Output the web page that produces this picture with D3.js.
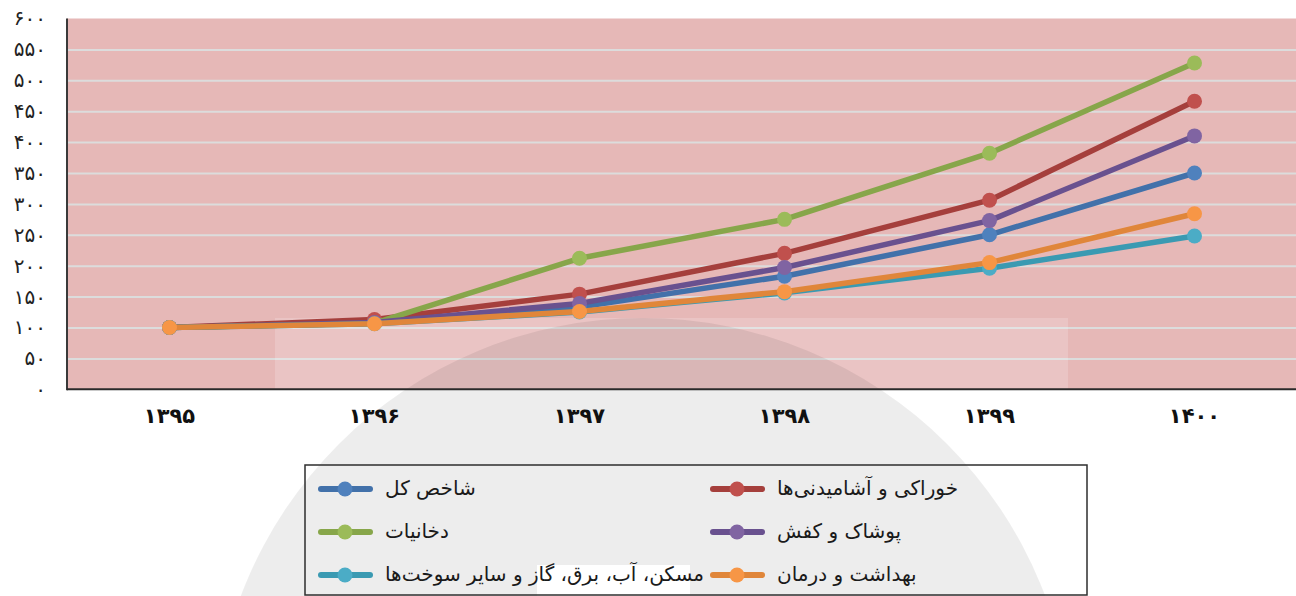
<!DOCTYPE html>
<html>
<head>
<meta charset="utf-8">
<script src="https://cdn.jsdelivr.net/npm/d3@7"></script>
<style>
  html, body { margin: 0; padding: 0; background: #ffffff; }
  svg { display: block; }
  text { font-family: "DejaVu Sans", sans-serif; }
</style>
</head>
<body>
<svg id="chart" width="1296" height="596"></svg>
<script>
// ---- data ----
const years = ["۱۳۹۵", "۱۳۹۶", "۱۳۹۷", "۱۳۹۸", "۱۳۹۹", "۱۴۰۰"];
const seriesNames = [
  "شاخص کل",
  "خوراکی و آشامیدنی\u200cها",
  "دخانیات",
  "پوشاک و کفش",
  "مسکن، آب، برق، گاز و سایر سوخت\u200cها",
  "بهداشت و درمان"
];
const totalIndex   = [100, 107, 133, 183, 250, 350];
const foodValues   = [100, 113, 154, 220, 306, 466];
const tobacco      = [100, 107, 212, 275, 382, 528];
const clothing     = [100, 108, 139, 197, 273, 410];
const housing      = [100, 106, 125, 156, 196, 248];
const health       = [100, 106, 126, 158, 205, 284];
const yTicks = [0, 50, 100, 150, 200, 250, 300, 350, 400, 450, 500, 550, 600];
const yTickLabels = ["۰", "۵۰", "۱۰۰", "۱۵۰", "۲۰۰", "۲۵۰", "۳۰۰", "۳۵۰", "۴۰۰", "۴۵۰", "۵۰۰", "۵۵۰", "۶۰۰"];

// ---- styles ----
const lineColors   = ["#4271aa", "#a53f3c", "#87a64a", "#69518f", "#3a9ab2", "#e0863a"];
const markerColors = ["#4f81bd", "#c0504d", "#9bbb59", "#8064a2", "#4bacc6", "#f79646"];
const allValues = [totalIndex, foodValues, tobacco, clothing, housing, health];
const series = seriesNames.map((n, i) => ({ name: n, values: allValues[i], line: lineColors[i], marker: markerColors[i] }));

const svg = d3.select("#chart");
const plot = { left: 67, right: 1297, top: 18.5, bottom: 389.3 };

const x = d3.scaleBand().domain(years).range([plot.left, plot.right]).padding(0);
const y = d3.scaleLinear().domain([0, 600]).range([plot.bottom, plot.top]);
const cx = d => x(d) + x.bandwidth() / 2;

// plot background
svg.append("rect")
  .attr("x", plot.left).attr("y", plot.top)
  .attr("width", plot.right - plot.left).attr("height", plot.bottom - plot.top)
  .attr("fill", "#e6b8b7");

// gridlines
svg.append("g")
  .attr("transform", `translate(${plot.left},0)`)
  .call(d3.axisLeft(y).tickValues(yTicks.filter(t => t > 0 && t < 600)).tickSize(-(plot.right - plot.left)).tickFormat(""))
  .call(g => g.select(".domain").remove())
  .call(g => g.selectAll("line").attr("stroke", "#dcdcdc").attr("stroke-width", 2));

// watermark pieces
svg.append("rect")
  .attr("x", 275).attr("y", 318).attr("width", 793).attr("height", plot.bottom - 318)
  .attr("fill", "#ffffff").attr("opacity", 0.18);
svg.append("circle")
  .attr("cx", 643).attr("cy", 748).attr("r", 430)
  .attr("fill", "#000000").attr("opacity", 0.07);
svg.append("rect")
  .attr("x", 537).attr("y", 565).attr("width", 153).attr("height", 31)
  .attr("fill", "#ffffff");

// y axis labels
const yAxis = svg.append("g")
  .attr("transform", `translate(${plot.left},0)`)
  .call(d3.axisLeft(y).tickValues(yTicks).tickSize(0).tickPadding(21)
    .tickFormat(d => yTickLabels[yTicks.indexOf(d)]));
yAxis.select(".domain").remove();
yAxis.selectAll("text")
  .attr("font-family", "DejaVu Sans, sans-serif")
  .attr("font-size", 20).attr("fill", "#222");

// x axis labels
const xAxis = svg.append("g")
  .attr("transform", `translate(0,${plot.bottom})`)
  .call(d3.axisBottom(x).tickSize(0).tickPadding(19));
xAxis.select(".domain").remove();
xAxis.selectAll("text")
  .attr("font-family", "DejaVu Sans, sans-serif")
  .attr("font-size", 21).attr("font-weight", "bold").attr("fill", "#111");

// axis lines
svg.append("line")
  .attr("x1", plot.left).attr("x2", plot.left).attr("y1", plot.top).attr("y2", plot.bottom + 1)
  .attr("stroke", "#3a3a3a").attr("stroke-width", 2);
svg.append("line")
  .attr("x1", plot.left).attr("x2", plot.right).attr("y1", plot.bottom).attr("y2", plot.bottom)
  .attr("stroke", "#2a2a2a").attr("stroke-width", 2);

// lines + markers
const lineGen = d3.line().x((d, i) => cx(years[i])).y(d => y(d));
series.forEach(s => {
  const g = svg.append("g");
  g.append("path")
    .attr("d", lineGen(s.values))
    .attr("fill", "none").attr("stroke", s.line).attr("stroke-width", 5.5)
    .attr("stroke-linejoin", "round").attr("stroke-linecap", "round");
  g.selectAll("circle").data(s.values).join("circle")
    .attr("cx", (d, i) => cx(years[i])).attr("cy", d => y(d))
    .attr("r", 7.5).attr("fill", s.marker);
});

// legend
const legend = svg.append("g");
legend.append("rect")
  .attr("x", 305).attr("y", 465).attr("width", 782).attr("height", 130)
  .attr("fill", "none").attr("stroke", "#2e2e2e").attr("stroke-width", 1.5);
const colX = [318, 710];
const rowY = [489, 532, 575];
series.forEach((s, i) => {
  const lx = colX[i % 2], ly = rowY[Math.floor(i / 2)];
  const g = legend.append("g");
  g.append("line")
    .attr("x1", lx + 3).attr("x2", lx + 52).attr("y1", ly).attr("y2", ly)
    .attr("stroke", s.line).attr("stroke-width", 6).attr("stroke-linecap", "round");
  g.append("circle").attr("cx", lx + 27).attr("cy", ly).attr("r", 7.5).attr("fill", s.marker);
  g.append("text")
    .attr("x", lx + 67).attr("y", ly)
    .attr("dominant-baseline", "middle")
    .attr("font-size", 20).attr("fill", "#1a1a1a")
    .text(s.name);
});
</script>
</body>
</html>
